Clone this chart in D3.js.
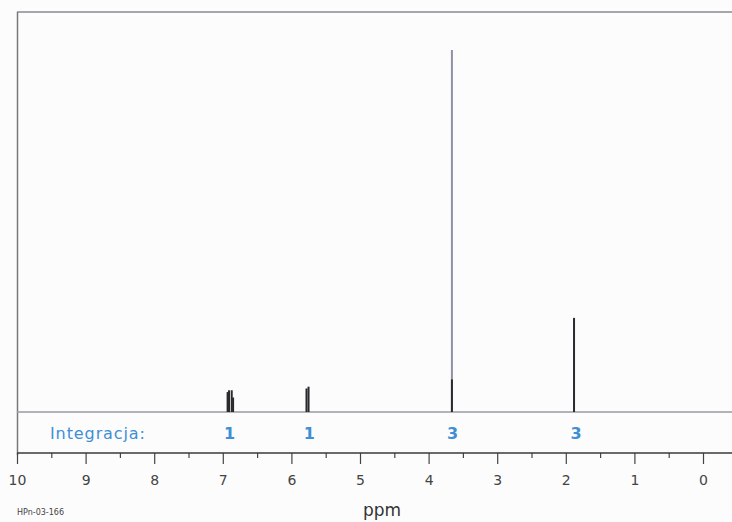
<!DOCTYPE html>
<html>
<head>
<meta charset="utf-8">
<script src="https://cdn.jsdelivr.net/npm/d3@7"></script>
<style>
  html, body { margin: 0; padding: 0; background: #fcfcfd; }
  svg { display: block; }
</style>
</head>
<body>
<svg width="732" height="522"></svg>
<script>
// peak lines: chemical shift (ppm) and relative intensity
const peakShifts = [6.93, 6.91, 6.87, 6.85, 5.78, 5.75, 3.66, 1.88];
const peakHeights = [5.5, 6, 6, 4, 6.5, 7, 100, 26];

// integration labels
const integralShifts = [6.9, 5.74, 3.65, 1.85];
const integralValues = ["1", "1", "3", "3"];

const majorTicks = [10, 9, 8, 7, 6, 5, 4, 3, 2, 1, 0];
const minorTicks = [9.5, 8.5, 7.5, 6.5, 5.5, 4.5, 3.5, 2.5, 1.5, 0.5, -0.5];

const svg = d3.select("svg");

const x = d3.scaleLinear().domain([10, 0]).range([17, 703]);
const y = d3.scaleLinear().domain([0, 100]).range([412, 50]);

const axisY = 453;

// frame
svg.append("line")
	.attr("x1", 17).attr("x2", 732)
	.attr("y1", 12).attr("y2", 12)
	.attr("stroke", "#8a8a90").attr("stroke-width", 1.5);

svg.append("line")
	.attr("x1", 17.5).attr("x2", 17.5)
	.attr("y1", 12).attr("y2", axisY + 2)
	.attr("stroke", "#77777d").attr("stroke-width", 1.5);

// spectrum baseline
svg.append("line")
	.attr("x1", 17).attr("x2", 732)
	.attr("y1", y(0)).attr("y2", y(0))
	.attr("stroke", "#9a9aa0").attr("stroke-width", 1.5);

const peaks = peakShifts.map((p, i) => ({ ppm: p, h: peakHeights[i] }));

// peaks, the tall one came out faded in the scan
svg.selectAll("line.peak")
	.data(peaks)
	.enter()
	.append("line")
	.attr("class", "peak")
	.attr("x1", (d) => x(d.ppm)).attr("x2", (d) => x(d.ppm))
	.attr("y1", y(0)).attr("y2", (d) => y(d.h))
	.attr("stroke", (d) => (d.h > 50 ? "#8e92a4" : "#2a2a2e"))
	.attr("stroke-width", 2);

svg.selectAll("line.peakbase")
	.data(peaks.filter((d) => d.h > 50))
	.enter()
	.append("line")
	.attr("class", "peakbase")
	.attr("x1", (d) => x(d.ppm)).attr("x2", (d) => x(d.ppm))
	.attr("y1", y(0)).attr("y2", y(9))
	.attr("stroke", "#2a2a2e")
	.attr("stroke-width", 2);

// integration row
const blue = "#3d8fd6";
svg.append("text")
	.attr("x", 50).attr("y", 439)
	.attr("font-family", "DejaVu Sans, Verdana, sans-serif")
	.attr("font-size", 16)
	.attr("letter-spacing", 0.9)
	.attr("fill", blue)
	.text("Integracja:");

svg.selectAll("text.integral")
	.data(integralValues)
	.enter()
	.append("text")
	.attr("class", "integral")
	.attr("x", (_, i) => x(integralShifts[i]))
	.attr("y", 439)
	.attr("text-anchor", "middle")
	.attr("font-family", "DejaVu Sans, Verdana, sans-serif")
	.attr("font-size", 16)
	.attr("font-weight", "bold")
	.attr("fill", blue)
	.text((d) => d);

// ppm axis
const major = svg.append("g")
	.attr("transform", `translate(0, ${axisY})`)
	.call(d3.axisBottom(x).tickValues(majorTicks).tickSize(11).tickPadding(11).tickFormat(d3.format("d")));

major.select(".domain").remove();
major.selectAll("line").attr("stroke", "#444").attr("stroke-width", 1.2);
major.selectAll("text")
	.attr("font-family", "DejaVu Sans, Verdana, sans-serif")
	.attr("font-size", 14)
	.attr("fill", "#444");

const minor = svg.append("g")
	.attr("transform", `translate(0, ${axisY})`)
	.call(d3.axisBottom(x).tickValues(minorTicks).tickSize(5).tickFormat(""));

minor.select(".domain").remove();
minor.selectAll("line").attr("stroke", "#444").attr("stroke-width", 1.2);

svg.append("line")
	.attr("x1", 17).attr("x2", 732)
	.attr("y1", axisY).attr("y2", axisY)
	.attr("stroke", "#3a3a3a").attr("stroke-width", 1.5);

svg.append("text")
	.attr("x", 382).attr("y", 516)
	.attr("text-anchor", "middle")
	.attr("font-family", "DejaVu Sans, Verdana, sans-serif")
	.attr("font-size", 17)
	.attr("fill", "#333")
	.text("ppm");

svg.append("text")
	.attr("x", 17).attr("y", 515)
	.attr("font-family", "DejaVu Sans, Verdana, sans-serif")
	.attr("font-size", 8)
	.attr("fill", "#444")
	.text("HPn-03-166");
</script>
</body>
</html>
